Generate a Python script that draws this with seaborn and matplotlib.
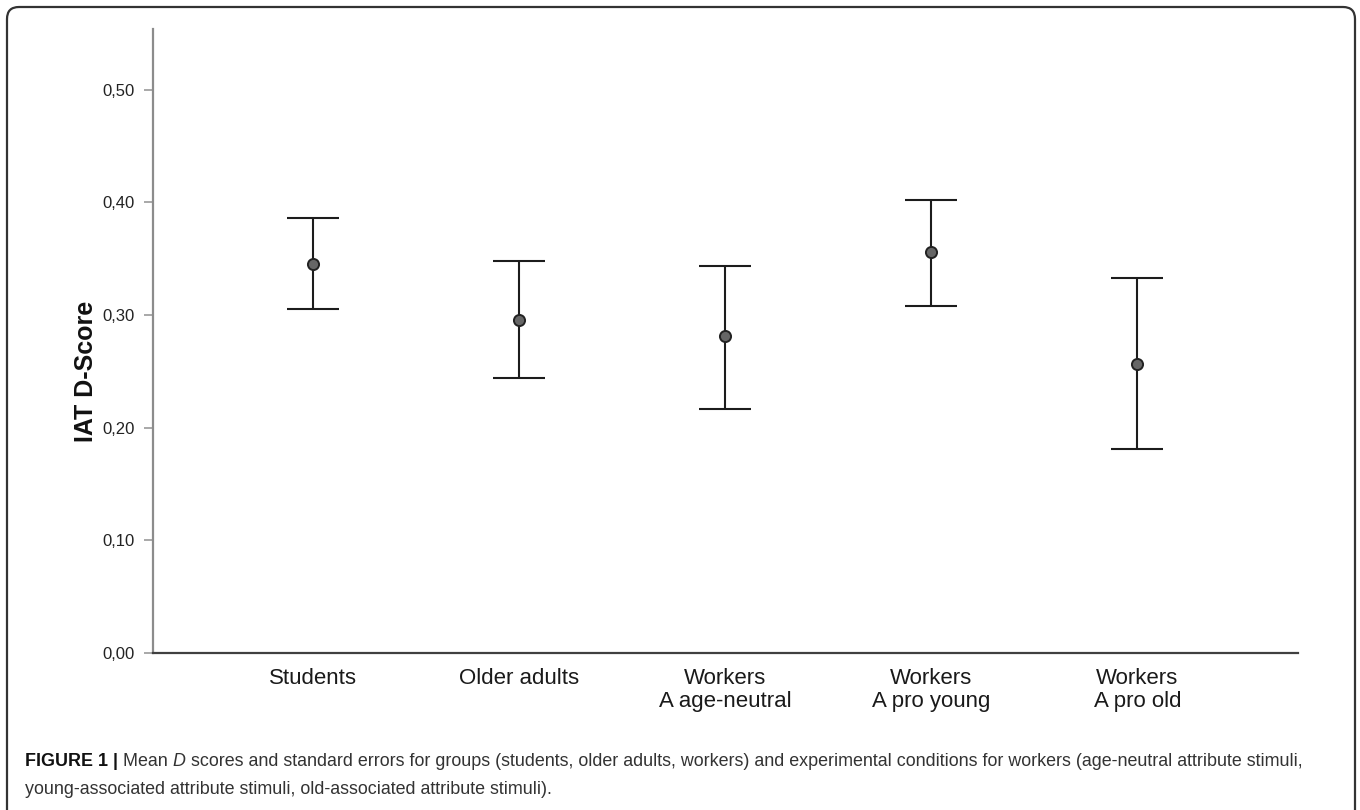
import matplotlib
matplotlib.use('Agg')
import matplotlib.pyplot as plt
from matplotlib import font_manager
from matplotlib.patches import FancyBboxPatch
import pandas as pd
import seaborn as sns

# group means and standard-error bounds
groups = ['Students', 'Older adults', 'Workers\nA age-neutral',
          'Workers\nA pro young', 'Workers\nA pro old']
means = [0.345, 0.296, 0.281, 0.356, 0.257]
upper = [0.386, 0.348, 0.344, 0.402, 0.333]
lower = [0.305, 0.244, 0.217, 0.308, 0.181]

yticks = [0.0, 0.1, 0.2, 0.3, 0.4, 0.5]
ytick_labels = ['0,00', '0,10', '0,20', '0,30', '0,40', '0,50']

caption_1 = [('FIGURE 1 |', 'bold', 'normal'),
             (' Mean', 'normal', 'normal'),
             (' D', 'normal', 'italic'),
             (' scores and standard errors for groups (students, older adults, workers) '
              'and experimental conditions for workers (age-neutral attribute stimuli,',
              'normal', 'normal')]
caption_2 = [('young-associated attribute stimuli, old-associated attribute stimuli).',
              'normal', 'normal')]

df = pd.DataFrame({'group': groups, 'mean': means, 'upper': upper, 'lower': lower})

sns.set_theme(style='white')
plt.rcParams['font.family'] = ['Liberation Sans', 'DejaVu Sans']

installed = {f.name for f in font_manager.fontManager.ttflist}
cap_font = 'Liberation Sans Narrow' if 'Liberation Sans Narrow' in installed else 'Liberation Sans'

fig = plt.figure(figsize=(13.6, 8.1), dpi=100)
ax = fig.add_axes([152.7 / 1360, 157 / 810, (1298 - 152.7) / 1360, (781 - 157) / 810])

ax.errorbar(range(len(df)), df['mean'],
            yerr=[df['mean'] - df['lower'], df['upper'] - df['mean']],
            fmt='none', ecolor='#1c1c1c', elinewidth=1.5, capsize=18.4, capthick=1.5,
            zorder=2)
sns.pointplot(data=df, x='group', y='mean', order=groups, linestyle='none',
              errorbar=None, color='#666666', markers='o', markersize=8,
              markeredgecolor='#222222', markeredgewidth=1.4, ax=ax, zorder=3)

ax.set_xlim(-0.78, 4.78)
ax.set_ylim(0, 0.554)
ax.set_yticks(yticks)
ax.set_yticklabels(ytick_labels)
ax.set_xlabel('')
ax.set_ylabel('IAT D-Score', fontsize=18, fontweight='bold', color='#111111')
ax.yaxis.set_label_coords((98 - 152.7) / 1145.3, 0.25 / 0.554)

for s in ['top', 'right']:
    ax.spines[s].set_visible(False)
ax.spines['left'].set_color('#8c8c8c')
ax.spines['left'].set_linewidth(1.6)
ax.spines['bottom'].set_color('#404040')
ax.spines['bottom'].set_linewidth(1.6)

ax.tick_params(axis='y', length=6.5, width=1.2, color='#9a9a9a', pad=6.5,
               labelsize=12, labelcolor='#222222', left=True)
ax.tick_params(axis='x', length=0, pad=11, labelsize=16, labelcolor='#1a1a1a')
for lab in ax.get_xticklabels():
    lab.set_linespacing(1.12)

# outer frame of the figure panel
frame = FancyBboxPatch((0.07, -0.5), 13.48, 8.03 + 0.5,
                       boxstyle='round,pad=0,rounding_size=0.12',
                       transform=fig.dpi_scale_trans, fill=False,
                       edgecolor='#333333', linewidth=1.6)
fig.add_artist(frame)


def draw_caption(pieces, x0, y, size):
    fig.canvas.draw()
    r = fig.canvas.get_renderer()
    x = x0
    arts = []
    for txt, weight, style in pieces:
        t = fig.text(x, y, txt, fontsize=size, fontweight=weight, fontstyle=style,
                     family=[cap_font, 'DejaVu Sans'],
                     color='#111111' if weight == 'bold' else '#333333',
                     ha='left', va='center')
        arts.append(t)
        bb = t.get_window_extent(r)
        x = bb.x1 / fig.bbox.width
    return arts, x


x0 = 25 / 1360
arts, x_end = draw_caption(caption_1, x0, 1 - 762 / 810, 12)
scale = (1307 / 1360 - x0) / (x_end - x0)
for a in arts:
    a.remove()
cap_size = 12 * scale
draw_caption(caption_1, x0, 1 - 762 / 810, cap_size)
draw_caption(caption_2, x0, 1 - 789 / 810, cap_size)

fig.savefig('out.png', dpi=100)
